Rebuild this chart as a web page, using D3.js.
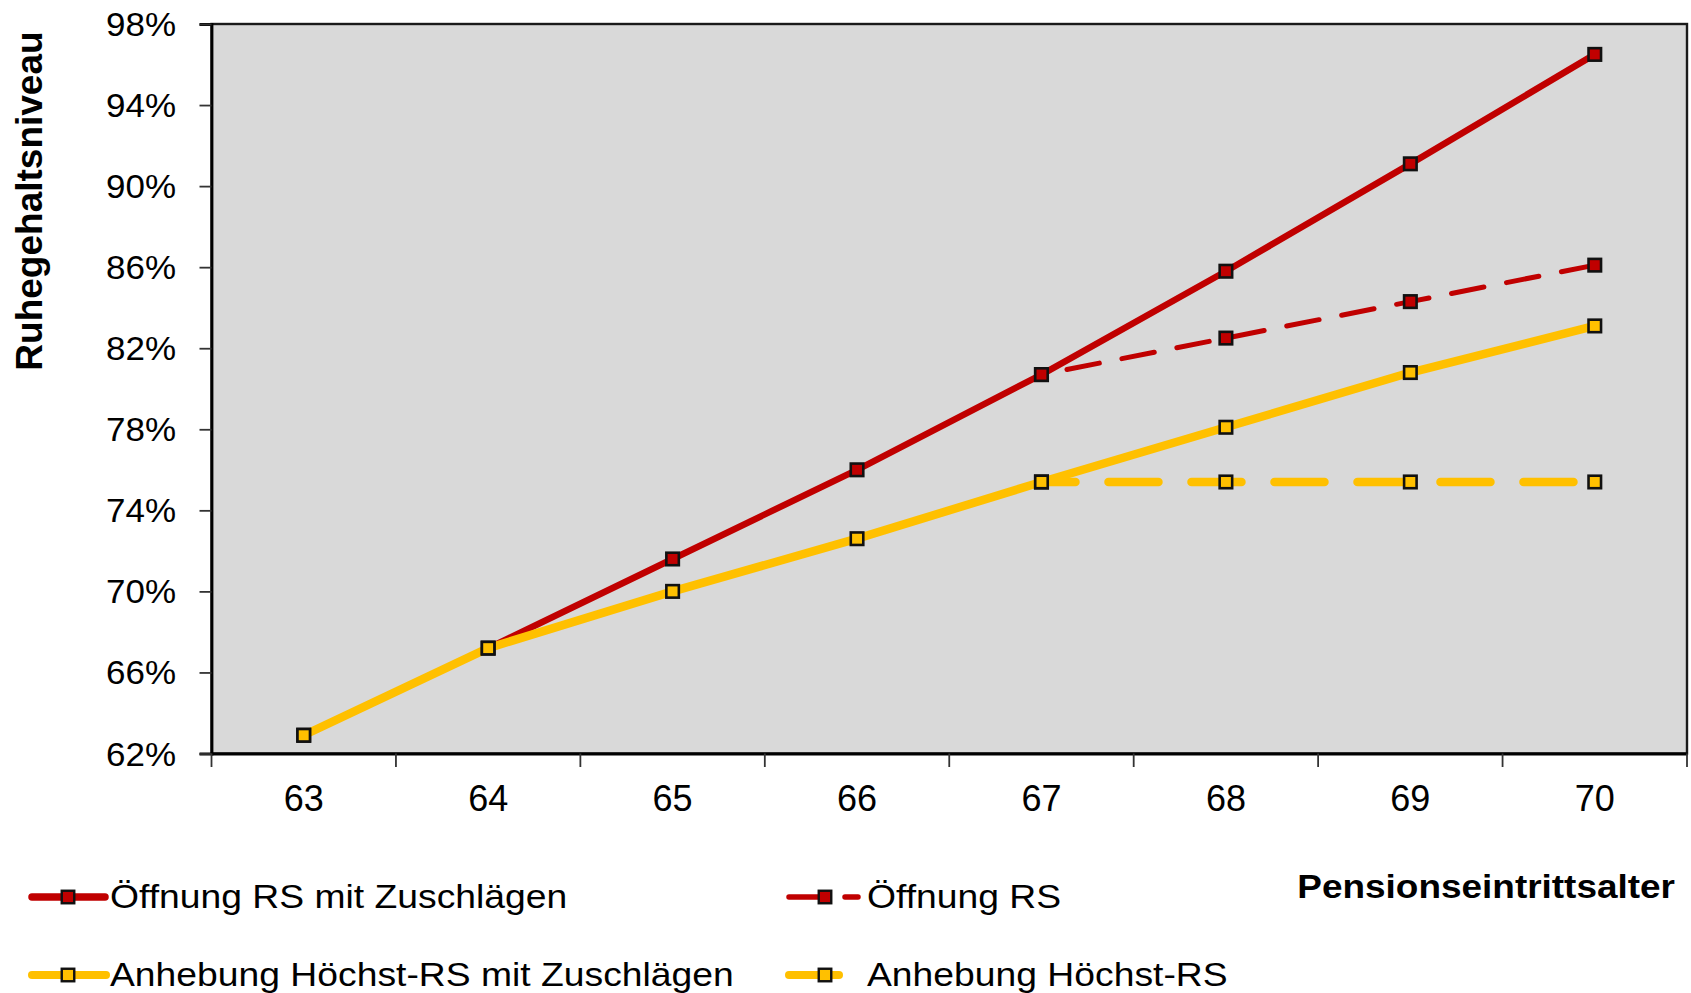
<!DOCTYPE html>
<html>
<head>
<meta charset="utf-8">
<script src="https://cdn.jsdelivr.net/npm/d3@7"></script>
<style>
  html, body { margin: 0; padding: 0; background: #fff; }
  svg { display: block; font-family: "Liberation Sans", Arial, sans-serif; }
</style>
</head>
<body>
<svg id="chart" width="1691" height="993"></svg>
<script>
// Pensionseintrittsalter (x) and Ruhegehaltsniveau in % (y)
const ages = [63, 64, 65, 66, 67, 68, 69, 70];
const oeffnungMitZuschlaegen = [62.9, 67.2, 71.6, 76.0, 80.7, 85.8, 91.1, 96.5];
const oeffnung = [null, null, null, null, 80.7, 82.5, 84.3, 86.1];
const hoechstMitZuschlaegen = [62.9, 67.2, 70.0, 72.6, 75.4, 78.1, 80.8, 83.1];
const hoechst = [null, null, null, null, 75.4, 75.4, 75.4, 75.4];
const yTicks = [62, 66, 70, 74, 78, 82, 86, 90, 94, 98];
const seriesNames = [
  "Öffnung RS mit Zuschlägen",
  "Öffnung RS",
  "Anhebung Höchst-RS mit Zuschlägen",
  "Anhebung Höchst-RS"
];

const RED = "#C00000", YELLOW = "#FFC000";

// visual style per series (drawing order = series order)
const series = [
  { name: seriesNames[0], values: oeffnungMitZuschlaegen, color: RED,    width: 6.5, dash: null,    offset: 0,  legendWidth: 7.5 },
  { name: seriesNames[1], values: oeffnung,               color: RED,    width: 5,   dash: "33,23", offset: 30, legendWidth: 5.5 },
  { name: seriesNames[2], values: hoechstMitZuschlaegen,  color: YELLOW, width: 8.5, dash: null,    offset: 0,  legendWidth: 8 },
  { name: seriesNames[3], values: hoechst,                color: YELLOW, width: 8.5, dash: "50,33", offset: 16, legendWidth: 8 }
];

const svg = d3.select("#chart");
svg.append("rect").attr("width", 1691).attr("height", 993).attr("fill", "#fff");

const plot = { left: 211.5, right: 1687, top: 24, bottom: 753.5 };

const x = d3.scaleBand().domain(ages).range([plot.left, plot.right]).padding(0);
const y = d3.scaleLinear().domain([62, 98]).range([plot.bottom, plot.top]);
const cx = d => x(d) + x.bandwidth() / 2;

// plot area
svg.append("rect")
  .attr("x", plot.left).attr("y", plot.top)
  .attr("width", plot.right - plot.left).attr("height", plot.bottom - plot.top)
  .attr("fill", "#D9D9D9")
  .attr("stroke", "#1a1a1a").attr("stroke-width", 2.4);

// y axis
const yAxis = svg.append("g")
  .attr("transform", `translate(${plot.left},0)`)
  .call(d3.axisLeft(y).tickValues(yTicks).tickSize(12).tickPadding(0).tickFormat(d => d + "%"));
yAxis.select(".domain").attr("stroke", "#000").attr("stroke-width", 2.8);
yAxis.selectAll(".tick text")
  .attr("x", null).attr("dy", null)
  .attr("text-anchor", "end")
  .attr("transform", "translate(-35.5,11.5) scale(1.06,1)")
  .attr("fill", "#000")
  .style("font-size", "33px")
  .style("font-family", "'Liberation Sans', Arial, sans-serif");
yAxis.selectAll(".tick line").attr("stroke", "#333").attr("stroke-width", 1.8);

// x axis: labels centred in the bands, tick marks on band boundaries
const xAxis = svg.append("g")
  .attr("transform", `translate(0,${plot.bottom})`)
  .call(d3.axisBottom(x).tickSize(0).tickPadding(0));
xAxis.select(".domain").attr("stroke", "#000").attr("stroke-width", 2.8);
xAxis.selectAll(".tick text")
  .attr("y", 57).attr("dy", null)
  .attr("fill", "#000")
  .style("font-size", "36px")
  .style("font-family", "'Liberation Sans', Arial, sans-serif");
const bounds = ages.map(a => x(a)).concat([x.range()[1]]);
svg.append("g").selectAll("line").data(bounds).join("line")
  .attr("x1", d => d).attr("x2", d => d)
  .attr("y1", plot.bottom).attr("y2", plot.bottom + 13.5)
  .attr("stroke", "#333").attr("stroke-width", 1.8);

// axis titles
svg.append("text")
  .attr("transform", "translate(42,201) rotate(-90)")
  .attr("text-anchor", "middle")
  .style("font-size", "37px").style("font-weight", "bold")
  .text("Ruhegehaltsniveau");

svg.append("text")
  .attr("transform", "translate(1675,898) scale(1.12,1)")
  .attr("text-anchor", "end")
  .style("font-size", "33px").style("font-weight", "bold")
  .text("Pensionseintrittsalter");

// lines
const line = d3.line()
  .defined(d => d.v != null)
  .x(d => cx(d.age))
  .y(d => y(d.v));

const pts = s => ages.map((age, i) => ({ age, v: s.values[i] }));

svg.append("g").selectAll("path").data(series).join("path")
  .attr("d", s => line(pts(s)))
  .attr("fill", "none")
  .attr("stroke", s => s.color)
  .attr("stroke-width", s => s.width)
  .attr("stroke-linecap", "round")
  .attr("stroke-linejoin", "round")
  .attr("stroke-dasharray", s => s.dash)
  .attr("stroke-dashoffset", s => s.offset);

// markers
const M = 12.5;
series.forEach(s => {
  svg.append("g").selectAll("rect").data(pts(s).filter(d => d.v != null)).join("rect")
    .attr("x", d => cx(d.age) - M / 2)
    .attr("y", d => y(d.v) - M / 2)
    .attr("width", M).attr("height", M)
    .attr("fill", s.color)
    .attr("stroke", "#111").attr("stroke-width", 2.6);
});

// legend (2 x 2)
const legendPos = [
  { x: 32, y: 897, len: 73 },
  { x: 789, y: 897, len: 69 },
  { x: 32, y: 975, len: 74 },
  { x: 789, y: 975, len: 69 }
];
series.forEach((s, i) => {
  const p = legendPos[i];
  const g = svg.append("g").attr("transform", `translate(${p.x},${p.y})`);
  g.append("line")
    .attr("x1", 0).attr("x2", p.len).attr("y1", 0).attr("y2", 0)
    .attr("stroke", s.color).attr("stroke-width", s.legendWidth)
    .attr("stroke-linecap", "round")
    .attr("stroke-dasharray", s.dash);
  g.append("rect")
    .attr("x", 36 - M / 2).attr("y", -M / 2).attr("width", M).attr("height", M)
    .attr("fill", s.color).attr("stroke", "#111").attr("stroke-width", 2.4);
  g.append("text")
    .attr("transform", "translate(78,10.5) scale(1.13,1)")
    .style("font-size", "33px")
    .text(s.name);
});
</script>
</body>
</html>
